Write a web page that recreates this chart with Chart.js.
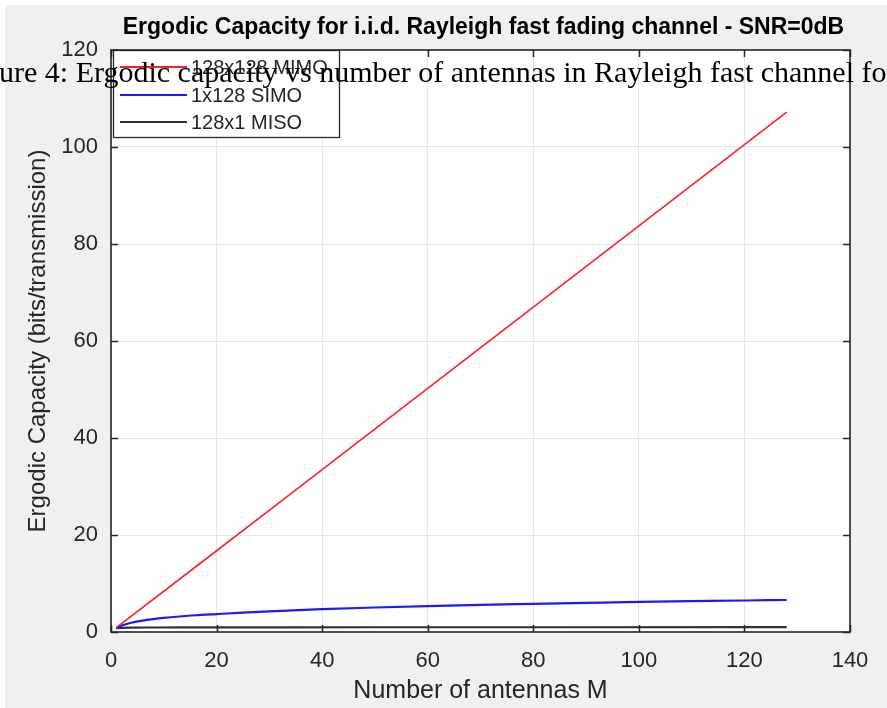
<!DOCTYPE html>
<html>
<head>
<meta charset="utf-8">
<script src="https://cdn.jsdelivr.net/npm/chart.js@4.4.1/dist/chart.umd.min.js"></script>
<style>
html,body{margin:0;padding:0;background:#ffffff;}
#wrap{position:relative;width:887px;height:708px;}
</style>
</head>
<body>
<div id="wrap"><canvas id="c" width="887" height="708"></canvas></div>
<script>
// ---- data ----
const chartTitle = "Ergodic Capacity for i.i.d. Rayleigh fast fading channel - SNR=0dB";
const captionText = "ure 4: Ergodic capacity vs number of antennas in Rayleigh fast channel for";
const xAxisLabel = "Number of antennas M";
const yAxisLabel = "Ergodic Capacity (bits/transmission)";
const seriesNames = ["128x128 MIMO", "1x128 SIMO", "128x1 MISO"];

const mimoM   = [1, 16, 32, 48, 64, 80, 96, 112, 128];
const mimoCap = [0.9, 13.4, 26.8, 40.2, 53.6, 67.0, 80.4, 93.8, 107.2];

const simoM   = [1, 2, 3, 4, 6, 8, 10, 13, 16, 20, 25, 30, 40, 50, 60, 70, 80, 90, 100, 110, 120, 128];
const simoCap = [0.8, 1.3, 1.65, 1.95, 2.35, 2.65, 2.9, 3.2, 3.45, 3.7, 4.0, 4.25, 4.7, 5.05, 5.35, 5.6, 5.8, 6.0, 6.2, 6.35, 6.5, 6.6];

const misoM   = [1, 2, 4, 8, 16, 32, 64, 128];
const misoCap = [0.8, 0.85, 0.9, 0.93, 0.95, 0.97, 0.98, 0.99];

const xTicks = [0, 20, 40, 60, 80, 100, 120, 140];
const yTicks = [0, 20, 40, 60, 80, 100, 120];

const seriesColors = ["#ff2020", "#1a1aff", "#303030"];

function pts(xs, ys){ return xs.map((x,i)=>({x:x, y:ys[i]})); }

const AXIS_COLOR = "#262626";
const SANS = "'Liberation Sans', Arial, sans-serif";

const decor = {
  id: 'decor',
  beforeDraw(chart){
    const ctx = chart.ctx, a = chart.chartArea;
    ctx.save();
    ctx.fillStyle = "#ffffff";
    ctx.fillRect(0,0,chart.width,chart.height);
    ctx.fillStyle = "#f0f0f0";
    ctx.fillRect(5,5,chart.width-5,chart.height-5);
    ctx.fillStyle = "#ffffff";
    ctx.fillRect(a.left,a.top,a.right-a.left,a.bottom-a.top);
    ctx.restore();
  },
  afterDatasetsDraw(chart){
    const ctx = chart.ctx, a = chart.chartArea;
    const xs = chart.scales.x, ys = chart.scales.y;
    ctx.save();
    // inward ticks
    ctx.strokeStyle = AXIS_COLOR;
    ctx.lineWidth = 1.5;
    const tl = 7;
    ctx.beginPath();
    xTicks.forEach(v=>{
      const px = Math.round(xs.getPixelForValue(v))+0.5;
      ctx.moveTo(px,a.bottom); ctx.lineTo(px,a.bottom-tl);
      ctx.moveTo(px,a.top); ctx.lineTo(px,a.top+tl);
    });
    yTicks.forEach(v=>{
      const py = Math.round(ys.getPixelForValue(v))+0.5;
      ctx.moveTo(a.left,py); ctx.lineTo(a.left+tl,py);
      ctx.moveTo(a.right,py); ctx.lineTo(a.right-tl,py);
    });
    ctx.stroke();
    // box
    ctx.lineWidth = 1.6;
    ctx.strokeRect(a.left,a.top,a.right-a.left,a.bottom-a.top);

    // legend box
    const lx = a.left+2, ly = a.top, lw = 226, lh = 87;
    ctx.fillStyle = "#ffffff";
    ctx.fillRect(lx,ly,lw,lh);
    ctx.lineWidth = 1.3;
    ctx.strokeStyle = AXIS_COLOR;
    ctx.strokeRect(lx+0.5,ly+0.5,lw,lh);
    const rows = [17, 45, 72];
    chart.data.datasets.forEach((ds,i)=>{
      const y = ly + rows[i];
      ctx.strokeStyle = ds.borderColor;
      ctx.lineWidth = 2;
      ctx.beginPath(); ctx.moveTo(lx+7,y); ctx.lineTo(lx+74,y); ctx.stroke();
      ctx.fillStyle = AXIS_COLOR;
      ctx.font = "20px " + SANS;
      ctx.textBaseline = "middle";
      ctx.textAlign = "left";
      ctx.fillText(ds.label, lx+78, y+1);
    });

    // title
    ctx.fillStyle = "#000000";
    ctx.font = "bold 23px " + SANS;
    ctx.textAlign = "center";
    ctx.textBaseline = "alphabetic";
    ctx.fillText(chartTitle, (a.left+a.right)/2+3, 34);

    // overlaid caption
    ctx.font = "30px 'Liberation Serif', 'Times New Roman', serif";
    ctx.textAlign = "left";
    ctx.fillStyle = "#000000";
    ctx.fillText(captionText, -1, 82);
    ctx.restore();
  }
};

new Chart(document.getElementById('c'), {
  type: 'line',
  data: {
    datasets: [
      {label: seriesNames[0], data: pts(mimoM, mimoCap), borderColor: seriesColors[0], borderWidth: 1.6, pointRadius: 0, tension: 0},
      {label: seriesNames[1], data: pts(simoM, simoCap), borderColor: seriesColors[1], borderWidth: 2.2, pointRadius: 0, cubicInterpolationMode: 'monotone'},
      {label: seriesNames[2], data: pts(misoM, misoCap), borderColor: seriesColors[2], borderWidth: 2.2, pointRadius: 0, cubicInterpolationMode: 'monotone'}
    ]
  },
  options: {
    responsive: false,
    animation: false,
    devicePixelRatio: 1,
    layout: {padding: {top: 50, right: 37, left: 0, bottom: 0}},
    plugins: {legend: {display: false}, title: {display: false}, tooltip: {enabled: false}},
    scales: {
      x: {
        type: 'linear', min: 0, max: 140,
        afterBuildTicks(s){ s.ticks = xTicks.map(v=>({value:v})); },
        afterFit(s){ s.height = 76; },
        grid: {color: '#e6e6e6', lineWidth: 1, drawTicks: false},
        border: {display: false},
        ticks: {color: AXIS_COLOR, font: {family: SANS, size: 22}, padding: 16, maxRotation: 0},
        title: {display: true, text: xAxisLabel, color: AXIS_COLOR, font: {family: SANS, size: 25}, padding: {top: 0, bottom: 2}}
      },
      y: {
        type: 'linear', min: 0, max: 120,
        afterBuildTicks(s){ s.ticks = yTicks.map(v=>({value:v})); },
        afterFit(s){ s.width = 111; },
        grid: {color: '#e6e6e6', lineWidth: 1, drawTicks: false},
        border: {display: false},
        ticks: {color: AXIS_COLOR, font: {family: SANS, size: 22}, padding: 13},
        title: {display: true, text: yAxisLabel, color: AXIS_COLOR, font: {family: SANS, size: 24}, padding: {top: 24, bottom: 0}}
      }
    }
  },
  plugins: [decor]
});
</script>
</body>
</html>
